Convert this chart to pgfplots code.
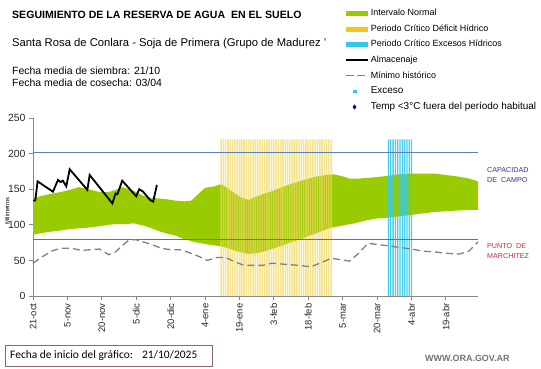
\documentclass[border=0pt]{standalone}
\usepackage{fontspec}
\setmainfont{Liberation Sans}
\newfontfamily\carlito{Carlito}
\usepackage{pgfplots}
\pgfplotsset{compat=1.18}
\definecolor{bandgreen}{HTML}{99CC00}
\definecolor{defyellow}{HTML}{F0D860}
\definecolor{legyellow}{HTML}{F5C518}
\definecolor{exccyan}{HTML}{33C8EA}
\definecolor{capblue}{HTML}{5B80C0}
\definecolor{wiltred}{HTML}{C0504D}
\definecolor{axisgray}{HTML}{868686}
\definecolor{dashgray}{HTML}{808080}
\definecolor{boxcol}{HTML}{8A6A6A}
\definecolor{annblue}{HTML}{333399}
\definecolor{annred}{HTML}{C03030}
\begin{document}
\begin{tikzpicture}[x=1bp,y=1bp]
\useasboundingbox (0,0) rectangle (541,368);
\begin{axis}[
  at={(33bp,72bp)}, anchor=south west,
  scale only axis, width=445bp, height=178bp,
  xmin=0, xmax=194, ymin=0, ymax=250,
  axis x line*=bottom, axis y line*=left,
  axis line style={draw=axisgray, line width=0.8bp},
  xtick={0,15,...,180},
  xticklabels={21-oct,5-nov,20-nov,5-dic,20-dic,4-ene,19-ene,3-feb,18-feb,5-mar,20-mar,4-abr,19-abr},
  x tick label style={rotate=90, anchor=east, font=\fontsize{9.5}{10}\selectfont, text=black!85},
  ytick={0,50,...,250},
  y tick label style={font=\fontsize{10.5}{11}\selectfont, text=black!85},
  /pgf/number format/assume math mode=true,
  tick align=outside, major tick length=4bp,
  tick style={draw=axisgray, line width=0.8bp},
  ylabel={Milimetros},
  ylabel style={at={(axis description cs:-0.058,0.478)}, anchor=center, font=\fontsize{6}{7}\selectfont},
  legend style={at={(axis description cs:0.7011,1.612)}, anchor=north west, draw=none, fill=none,
    inner sep=0pt, row sep=7.3bp, column sep=2bp,
    nodes={inner sep=0pt, text height=6.5bp, text depth=1.8bp},
    font=\fontsize{9}{10}\selectfont},
  legend cell align=left,
]
\addlegendimage{legend image code/.code={\fill[bandgreen] (0bp,-2bp) rectangle (21bp,2bp);}}
\addlegendentry{Intervalo Normal}
\addlegendimage{legend image code/.code={\fill[legyellow] (0bp,-2bp) rectangle (21bp,2bp);}}
\addlegendentry{Periodo Crítico Déficit Hídrico}
\addlegendimage{legend image code/.code={\fill[exccyan] (0bp,-2bp) rectangle (21bp,2bp);}}
\addlegendentry{Periodo Crítico Excesos Hídricos}
\addlegendimage{legend image code/.code={\draw[black, line width=1.6bp] (0bp,0bp) -- (22bp,0bp);}}
\addlegendentry{Almacenaje}
\addlegendimage{legend image code/.code={\draw[dashgray, line width=1.2bp, dash pattern=on 8bp off 3bp] (0bp,0bp) -- (22bp,0bp);}}
\addlegendentry{Mínimo histórico}
\addlegendimage{only marks, mark=square*, mark size=1.2bp, color=exccyan}
\addlegendentry{\fontsize{10}{11}\selectfont Exceso}
\addlegendimage{only marks, mark=diamond*, mark size=2.2bp, color=blue!75!black}
\addlegendentry{\fontsize{10}{11}\selectfont Temp <3°C fuera del período habitual}

% Intervalo normal (banda)
\addplot[fill=bandgreen, draw=none, forget plot] coordinates {
(0,138)(3,140)(7,143)(12,146)(16,149)(20,153)(24,150)(29,146)(33,146)(36,149)(39,153)(42,150)(45,146)(48,141)(51,138)(55,137)(58,136)(62,134)(66,133)(69,134)(72,143)(75,152)(79,154)(82,157)(85,151)(88,144)(91,138)(94,135)(97,139)(100,143)(104,147)(108,152)(112,157)(116,161)(120,165)(124,168)(128,170)(131,171)(135,168)(138,165)(142,165)(146,166)(150,167)(155,169)(160,171)(165,172)(170,172)(175,172)(180,170)(185,168)(190,165)(194,161)
(194,121)(190,121)(185,120)(180,119)(175,118)(170,116)(165,114)(160,112)(155,110)(150,109)(145,106)(140,102)(135,99)(130,96)(125,90)(120,84)(116,79)(112,75)(108,70)(104,66)(100,62)(97,60)(94,59)(91,61)(88,64)(85,67)(82,70)(79,71)(75,73)(70,76)(65,81)(62,85)(58,88)(55,91)(51,96)(48,99)(44,102)(40,101)(36,101)(33,100)(29,98)(24,96)(20,95)(16,94)(12,92)(7,90)(3,88)(0,86)
};

% Periodo critico deficit
\addplot[ybar, bar shift=0pt, bar width=1.6bp, fill=defyellow, draw=none, fill opacity=0.68, forget plot] coordinates {
(82,220)(83,220)(84,220)(85,220)(86,220)(87,220)(88,220)(89,220)(90,220)(91,220)(92,220)(93,220)(94,220)(95,220)(96,220)(97,220)(98,220)(99,220)(100,220)(101,220)(102,220)(103,220)(104,220)(105,220)(106,220)(107,220)(108,220)(109,220)(110,220)(111,220)(112,220)(113,220)(114,220)(115,220)(116,220)(117,220)(118,220)(119,220)(120,220)(121,220)(122,220)(123,220)(124,220)(125,220)(126,220)(127,220)(128,220)(129,220)(130,220)
};

% Periodo critico excesos
\addplot[ybar, bar shift=0pt, bar width=1.3bp, fill=exccyan, draw=none, fill opacity=0.9, forget plot] coordinates {
(155,220)(156,220)(157,220)(158,220)(159,220)(160,220)(161,220)(162,220)(163,220)(164,220)(165,220)
};

% Capacidad de campo y punto de marchitez
\addplot[capblue, line width=0.9bp, forget plot] coordinates {(0,202) (194,202)};
\addplot[wiltred, line width=0.9bp, forget plot] coordinates {(0,80) (194,80)};

% Minimo historico
\addplot[dashgray, line width=1.3bp, dash pattern=on 7bp off 4bp, forget plot] coordinates {
(0,46)(4,55)(8,63)(12,67)(17,67)(21,64)(25,65)(29,66)(33,58)(36,62)(39,71)(42,79)(45,79)(48,76)(52,72)(56,67)(60,65)(64,65)(68,61)(72,56)(76,50)(80,54)(84,54)(88,48)(92,43)(96,43)(100,43)(104,46)(108,45)(112,44)(116,43)(121,41)(125,46)(130,53)(134,51)(138,49)(142,60)(146,74)(151,72)(156,70)(160,68)(165,66)(170,63)(175,62)(180,60)(186,59)(190,63)(194,76)
};

% Almacenaje
\addplot[black, line width=1.8bp, forget plot] coordinates {
(0,134)(1,134)(2,161)(8.7,146.5)(10.9,163)(12,160)(13,162)(14.5,154)(16,178)(23.7,149)(24.7,170)(34.6,130)(36,144)(36.8,143)(38.9,162)(45,140)(46.3,150)(48,146.5)(51,135)(52.4,132.5)(54,156)
};
\end{axis}

% Textos
\node[anchor=west, inner sep=0pt, font=\bfseries\fontsize{10.6}{12}\selectfont] at (12,353) {SEGUIMIENTO DE LA RESERVA DE AGUA\ \ EN EL SUELO};
\node[anchor=west, inner sep=0pt, font=\fontsize{11.3}{12}\selectfont] at (12,324.7) {Santa Rosa de Conlara - Soja de Primera (Grupo de Madurez '};
\node[anchor=west, inner sep=0pt, font=\fontsize{10.5}{12}\selectfont] at (12,297) {Fecha media de siembra: 21/10};
\node[anchor=west, inner sep=0pt, font=\fontsize{10.5}{12}\selectfont] at (12,285.3) {Fecha media de cosecha: 03/04};

\node[anchor=west, inner sep=0pt, text=annblue, font=\fontsize{7.2}{8}\selectfont] at (487,198) {CAPACIDAD};
\node[anchor=west, inner sep=0pt, text=annblue, font=\fontsize{7.2}{8}\selectfont] at (487,188) {DE\ \ CAMPO};
\node[anchor=west, inner sep=0pt, text=annred, font=\fontsize{7.2}{8}\selectfont] at (487,122) {PUNTO\ \ DE};
\node[anchor=west, inner sep=0pt, text=annred, font=\fontsize{7.2}{8}\selectfont] at (487,112) {MARCHITEZ};

\draw[boxcol, line width=0.8bp] (5,2) rectangle (212,23);
\node[anchor=west, inner sep=0pt, font=\carlito\fontsize{11.5}{13}\selectfont] at (10,12.5) {Fecha de inicio del gráfico:\hspace{9bp}21/10/2025};
\node[anchor=west, inner sep=0pt, text=black!55, font=\bfseries\fontsize{9}{10}\selectfont] at (425,10) {WWW.ORA.GOV.AR};
\end{tikzpicture}
\end{document}
